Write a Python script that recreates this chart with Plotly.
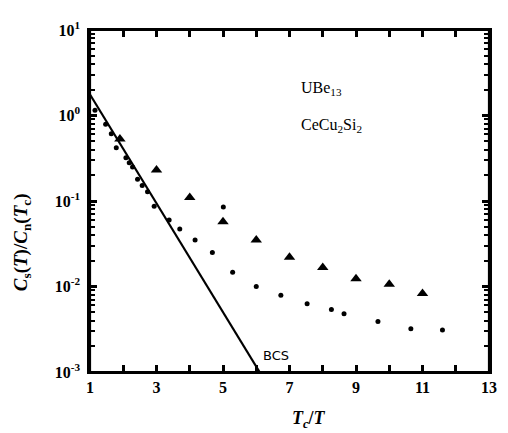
import plotly.graph_objects as go

# Data
dots_x = [1.15, 1.47, 1.64, 1.79, 2.08, 2.18, 2.28, 2.43, 2.57, 2.73, 2.93, 3.38, 3.7, 4.16, 4.68, 5.01, 5.29, 6.0, 6.74, 7.53, 8.26, 8.64, 9.66, 10.65, 11.6]
dots_y = [1.15, 0.79, 0.61, 0.42, 0.32, 0.28, 0.25, 0.18, 0.152, 0.128, 0.087, 0.06, 0.047, 0.035, 0.025, 0.085, 0.0147, 0.010, 0.0079, 0.0063, 0.0054, 0.0048, 0.0039, 0.0032, 0.0031]
tri_x = [1.9, 3, 4, 5, 6, 7, 8, 9, 10, 11]
tri_y = [0.53, 0.23, 0.11, 0.057, 0.035, 0.022, 0.0167, 0.0123, 0.0106, 0.0083]
bcs_x = [1.0, 6.1]
bcs_y = [1.76, 0.001]

x_ticks = [1, 3, 5, 7, 9, 11, 13]
x_ticktext = ["1", "3", "5", "7", "9", "11", "13"]
y_ticks = [1e-3, 1e-2, 1e-1, 1e0, 1e1]
y_ticktext = ["10<sup>-3</sup>", "10<sup>-2</sup>", "10<sup>-1</sup>", "10<sup>0</sup>", "10<sup>1</sup>"]
y_minor = [m * d for d in (1e-3, 1e-2, 1e-1, 1e0) for m in range(2, 10)]

# label positions (log10 units for the log axis)
label_ube_y = 0.314
label_cecu_y = -0.12
label_bcs_y = -2.81

SERIF = "Liberation Serif, DejaVu Serif, serif"

fig = go.Figure()
fig.add_trace(go.Scatter(x=bcs_x, y=bcs_y, mode="lines",
                         line=dict(color="black", width=2.2), showlegend=False))
fig.add_trace(go.Scatter(x=dots_x, y=dots_y, mode="markers",
                         marker=dict(symbol="circle", size=5, color="black"), showlegend=False))
fig.add_trace(go.Scatter(x=tri_x, y=tri_y, mode="markers",
                         marker=dict(symbol="triangle-up", size=10, color="black"), showlegend=False))

# page body has an 8px default margin, so the figure is sized 500x425
fig.update_layout(
    width=500, height=425,
    margin=dict(l=82, r=11, t=14, b=61),
    paper_bgcolor="white", plot_bgcolor="white",
    font=dict(family=SERIF, color="black"),
    xaxis=dict(range=[1, 13], tickmode="array", tickvals=x_ticks, ticktext=x_ticktext,
               ticks="inside", ticklen=7, tickwidth=2.5, tickcolor="black", mirror="ticks",
               minor=dict(tickmode="linear", tick0=0, dtick=1, ticks="inside", ticklen=7,
                          tickwidth=2.5, tickcolor="black", showgrid=False),
               showline=True, linecolor="black", linewidth=2, showgrid=False, zeroline=False,
               tickfont=dict(family=SERIF, size=16, color="black", weight="bold")),
    yaxis=dict(type="log", range=[-3, 1], tickmode="array", tickvals=y_ticks, ticktext=y_ticktext,
               ticks="inside", ticklen=7, tickwidth=2.5, tickcolor="black", mirror="ticks",
               minor=dict(tickmode="array", tickvals=y_minor, ticks="inside", ticklen=5,
                          tickwidth=1.5, tickcolor="black", showgrid=False),
               showline=True, linecolor="black", linewidth=2.5, showgrid=False,
               zeroline=False, tickfont=dict(family=SERIF, size=16, color="black", weight="bold"),
               ticklabelstandoff=4),
)

# plot frame
fig.add_shape(type="rect", xref="paper", yref="paper", x0=0, y0=0, x1=1, y1=1,
              line=dict(color="black", width=2.2), layer="above")

fig.add_annotation(text="<b><i>C</i><sub>s</sub>(<i>T</i>)/<i>C</i><sub>n</sub>(<i>T</i><sub>c</sub>)</b>",
                   xref="paper", yref="paper", x=-0.17, y=0.38, textangle=-90,
                   showarrow=False, font=dict(family=SERIF, size=19, color="black"),
                   xanchor="center", yanchor="middle")
fig.add_annotation(text="<b><i>T<sub>c</sub></i>/<i>T</i></b>", xref="x", yref="paper",
                   x=7.6, y=-0.14, showarrow=False,
                   font=dict(family=SERIF, size=18, color="black"),
                   xanchor="center", yanchor="middle")
fig.add_annotation(text="UBe<sub>13</sub>", xref="x", yref="y", x=7.3, y=label_ube_y,
                   showarrow=False, xanchor="left", yanchor="middle",
                   font=dict(family=SERIF, size=16, color="black"))
fig.add_annotation(text="CeCu<sub>2</sub>Si<sub>2</sub>", xref="x", yref="y", x=7.3,
                   y=label_cecu_y, showarrow=False, xanchor="left", yanchor="middle",
                   font=dict(family=SERIF, size=16, color="black"))
fig.add_annotation(text="BCS", xref="x", yref="y", x=6.15, y=label_bcs_y,
                   showarrow=False, xanchor="left", yanchor="middle",
                   font=dict(family="DejaVu Sans, sans-serif", size=13, color="black"))

fig.write_html("out.html")
